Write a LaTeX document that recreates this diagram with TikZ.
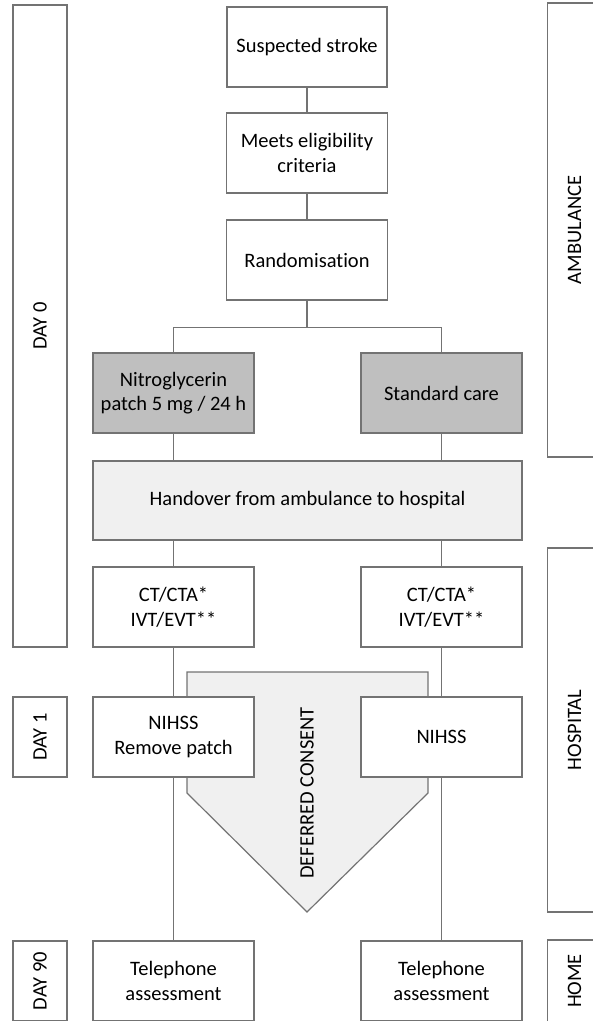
\documentclass[tikz,border=0pt]{standalone}
\usepackage{fontspec}
\setmainfont{Carlito}[Ligatures=NoCommon]

\begin{document}
\begin{tikzpicture}[x=0.5pt,y=-0.5pt,
  box/.style={draw=black!55,line width=0.6pt,fill=white,align=center,
    font=\fontsize{10.25}{12.3}\selectfont,inner sep=2pt,
    minimum width=80.5pt,minimum height=40pt},
  arm/.style={box,fill=black!25},
  wide/.style={box,fill=black!6,minimum width=214.5pt,minimum height=39.5pt},
  phase/.style={draw=black!55,line width=0.6pt,rotate=90,inner sep=2pt,
    font=\fontsize{10.25}{12.3}\selectfont,minimum height=27pt},
  consent/.style={draw=black!55,line width=0.6pt,fill=black!6},
  link/.style={draw=black!55,line width=0.6pt}]
\useasboundingbox (0,0) rectangle (593,1021);
\draw[consent] (187,672) -- (428,672) -- (428,793) -- (307,912) -- (187,793) -- cycle;
\node[rotate=90,font=\fontsize{10.25}{12.3}\selectfont] (deferred) at (307,793) {DEFERRED CONSENT};
\node[box,minimum width=80pt] (stroke) at (307,47) {Suspected stroke};
\node[box] (elig) at (307,153) {Meets eligibility\\criteria};
\node[box] (rand) at (307,260) {Randomisation};
\node[arm] (ntg) at (173.5,393) {Nitroglycerin\\patch 5 mg / 24 h};
\node[arm] (std) at (441.5,393) {Standard care};
\node[wide] (handover) at (307.5,500.5) {Handover from ambulance to hospital};
\node[box] (ctl) at (173.5,607) {CT/CTA*\\IVT/EVT**};
\node[box] (ctr) at (441.5,607) {CT/CTA*\\IVT/EVT**};
\node[box] (nihl) at (173.5,737) {NIHSS\\Remove patch};
\node[box] (nihr) at (441.5,737) {NIHSS};
\node[box] (tell) at (173.5,981) {Telephone\\assessment};
\node[box] (telr) at (441.5,981) {Telephone\\assessment};
\node[phase,minimum width=321pt] (day0) at (40,326) {DAY 0};
\node[phase,minimum width=40pt] (day1) at (40,737) {DAY 1};
\node[phase,minimum width=40pt] (day90) at (40,981) {DAY 90};
\node[phase,minimum width=227pt] (amb) at (574.5,230) {AMBULANCE};
\node[phase,minimum width=182pt] (hosp) at (574.5,730) {HOSPITAL};
\node[phase,minimum width=41pt] (home) at (574.5,981) {HOME};
\draw[link] (stroke) -- (elig);
\draw[link] (elig) -- (rand);
\draw[link] (rand.south) -- ++(0,27) -| (ntg.north);
\draw[link] (rand.south) -- ++(0,27) -| (std.north);
\draw[link] (ntg.south) -- (ntg.south |- handover.north);
\draw[link] (std.south) -- (std.south |- handover.north);
\draw[link] (ctl.north |- handover.south) -- (ctl.north);
\draw[link] (ctr.north |- handover.south) -- (ctr.north);
\draw[link] (ctl) -- (nihl);
\draw[link] (ctr) -- (nihr);
\draw[link] (nihl) -- (tell);
\draw[link] (nihr) -- (telr);
\end{tikzpicture}
\end{document}
